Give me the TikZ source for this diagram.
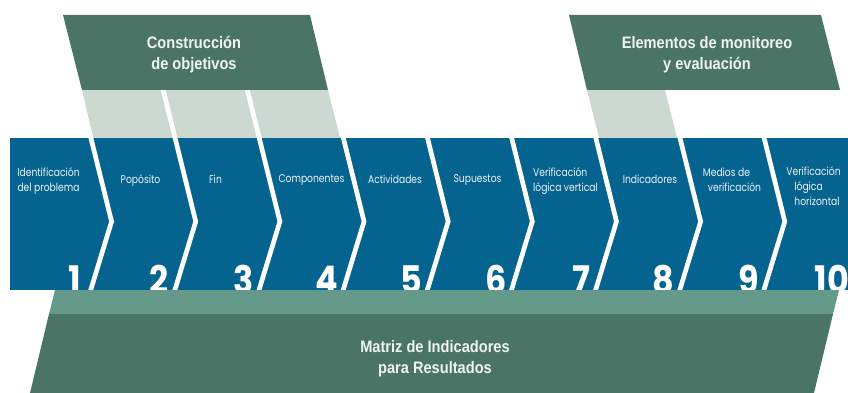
\documentclass[tikz,border=0pt]{standalone}
\usepackage{fontspec}
\setmainfont{Poppins}
\newfontfamily\titlefont{Liberation Sans}[BoldFont={Liberation Sans Bold}]
\definecolor{bandblue}{HTML}{05638F}
\definecolor{darkgreen}{HTML}{4A7566}
\definecolor{midgreen}{HTML}{659A8B}
\definecolor{lightgreen}{HTML}{CBD9D0}
\tikzset{
  x=1pt,y=-1pt,
  sep/.style={draw=white,line width=4.7pt,line join=miter},
  lab/.style={text=white!92!bandblue,font=\fontsize{11.2}{15}\selectfont\addfontfeature{FakeStretch=0.82},align=center,inner sep=0,text depth=0pt},
  num/.style={text=white,font=\fontsize{38}{38}\selectfont\bfseries\addfontfeature{FakeStretch=0.88},anchor=base east,inner sep=0},
  ttl/.style={text=white!92!darkgreen,font=\titlefont\bfseries\fontsize{16.6}{21}\selectfont\addfontfeature{FakeStretch=0.88},align=center,inner sep=0},
}
\begin{document}
\begin{tikzpicture}
\useasboundingbox (0,0) rectangle (848,393);
% light bands
\fill[lightgreen] (82,90) -- (328,90) -- (340,138) -- (93,138) -- cycle;
\fill[lightgreen] (587,90) -- (665,90) -- (677,138) -- (599,138) -- cycle;
% blue band
\fill[bandblue] (10,138) rectangle (848,290);
% numbers
\begin{scope}
\clip (0,138) rectangle (848,290);
\foreach \n/\xx in {1/81.5,2/168.5,3/253.5,4/338.5,5/422.5,6/506.5,7/590.5,8/674.5,9/759.5,10/849}
  \node[num] (n\n) at (\xx,293) {\n};
\end{scope}
% separators: the first three run up through the light band
\foreach \i in {0,...,8}{
  \pgfmathsetmacro{\xa}{90.8+84.15*\i}
  \pgfmathsetmacro{\ytop}{\i<3 ? 90 : 138}
  \begin{scope}
    \clip (0,\ytop) rectangle (848,290);
    \draw[sep] (\xa-14,81) -- (\xa+20.8,221.5) -- (\xa-1,293);
  \end{scope}
}
% title boxes
\fill[darkgreen] (63,15) -- (310,15) -- (328,90) -- (82,90) -- cycle;
\fill[darkgreen] (569,15) -- (821,15) -- (840,90) -- (587,90) -- cycle;
% lower box
\fill[midgreen] (55,290) -- (839,290) -- (833,314) -- (49,314) -- cycle;
\fill[darkgreen] (49,314) -- (833,314) -- (814,393) -- (30,393) -- cycle;
% titles
\node[ttl] (t1) at (194,54.5) {Construcción\\de objetivos};
\node[ttl] (t2) at (707,54.5) {Elementos de monitoreo\\y evaluación};
\node[ttl] (t3) at (435,359) {Matriz de Indicadores\\para Resultados};
% labels
\node[lab] (a1) at (48.5,180) {Identificación\\del problema};
\node[lab] (a2) at (140.5,179) {Popósito};
\node[lab] (a3) at (215.5,179) {Fin};
\node[lab] (a4) at (311.5,179) {Componentes};
\node[lab] (a5) at (395,179) {Actividades};
\node[lab] (a6) at (477.5,179) {Supuestos};
\node[lab,align=left] (a7) at (565.5,180) {Verificación\\lógica vertical};
\node[lab] (a8) at (650,179) {Indicadores};
\node[lab,align=left] (a9) at (732,180) {Medios de\\\hspace*{5pt}verificación};
\node[lab,align=left] (a10) at (813.5,186) {Verificación\\\hspace*{8pt}lógica\\\hspace*{8pt}horizontal};
\end{tikzpicture}
\end{document}
